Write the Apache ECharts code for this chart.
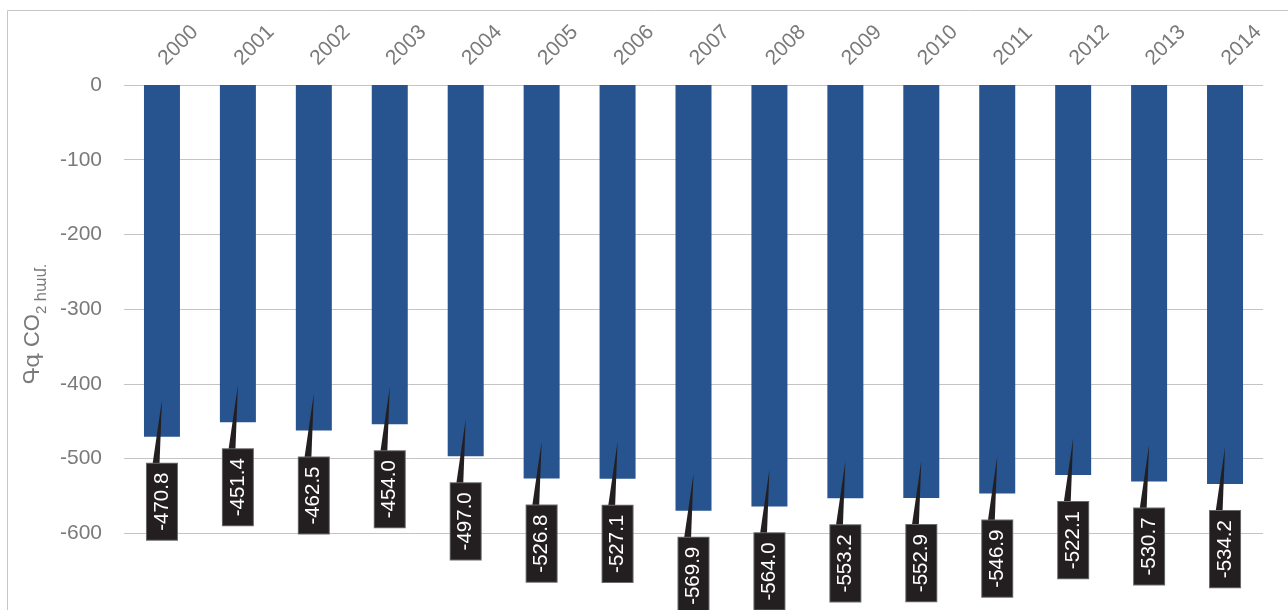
<!DOCTYPE html>
<html>
<head>
<meta charset="utf-8">
<script src="https://cdn.jsdelivr.net/npm/echarts@6/dist/echarts.min.js"></script>
<style>html,body{margin:0;padding:0;background:#fff;}#c{width:1288px;height:610px;}</style>
</head>
<body>
<div id="c"></div>
<script>
const years = ['2000','2001','2002','2003','2004','2005','2006','2007','2008','2009','2010','2011','2012','2013','2014'];
const emissions = [-470.8,-451.4,-462.5,-454.0,-497.0,-526.8,-527.1,-569.9,-564.0,-553.2,-552.9,-546.9,-522.1,-530.7,-534.2];
const yTicks = { min: -700, max: 0, interval: 100 };
const yName = ['Գգ CO', '2 համ.'];

const FONT = "'Liberation Sans','DejaVu Sans',sans-serif";
const GRAY = '#7a7a7a';
const DARK = '#231f20';

const chart = echarts.init(document.getElementById('c'), null, {renderer:'canvas'});
chart.setOption({
  animation: false,
  backgroundColor: '#fff',
  grid: { left: 124, right: 25, top: 85, bottom: 2, containLabel: false },
  graphic: [
    { type:'rect', shape:{x:7.5, y:10.5, width:1400, height:700}, style:{fill:'none', stroke:'#c6c6c6', lineWidth:1}, silent:true, z:-1 },
    { type:'text', x:31, y:324, rotation:Math.PI/2,
      style:{ rich:{ a:{fontSize:22, fontFamily:FONT, fill:GRAY, lineHeight:26, verticalAlign:'bottom'},
                     b:{fontSize:15, fontFamily:FONT, fill:GRAY, lineHeight:15, verticalAlign:'bottom', padding:[0,0,-5,0]} },
              text:'{a|' + yName[0] + '}{b|' + yName[1] + '}', align:'center', verticalAlign:'middle' } }
  ],
  xAxis: {
    type:'category', data: years, position:'top',
    axisLine:{show:false}, axisTick:{show:false},
    axisLabel:{ rotate:45, margin:23, fontSize:21, color:GRAY, fontFamily:FONT, interval:0 }
  },
  yAxis: {
    type:'value', min:yTicks.min, max:yTicks.max, interval:yTicks.interval,
    axisLine:{show:false}, axisTick:{show:false},
    axisLabel:{ fontSize:21, color:GRAY, fontFamily:FONT, margin:22, showMinLabel:false },
    splitLine:{ lineStyle:{color:'#c4c4c4', width:1}, showMinLine:false }
  },
  series: [
    { type:'bar', data: emissions, barWidth:36, itemStyle:{color:'#27548f'}, z:2 },
    { type:'custom', z:5, clip:false,
      data: emissions.map((v,i)=>[i,v]),
      renderItem: function(params, api){
        const i = api.value(0), v = api.value(1);
        const p = api.coord([i, v]);
        const x = p[0], y = p[1];
        const boxTop = y + 26, boxH = 78;
        return { type:'group', children:[
          { type:'polygon', shape:{ points:[[x, y-37],[x-9.5, boxTop+2],[x-2.5, boxTop+2]] }, style:{ fill:DARK } },
          { type:'text', x:x, y:boxTop + boxH/2, rotation:Math.PI/2,
            style:{ text: v.toFixed(1), fill:'#ffffff', fontSize:20.5, fontFamily:FONT, lineHeight:18,
                    align:'center', verticalAlign:'middle', backgroundColor:DARK, padding:[6,9],
                    borderColor:'#6a6a6a', borderWidth:1 } }
        ]};
      }
    }
  ]
});
</script>
</body>
</html>
